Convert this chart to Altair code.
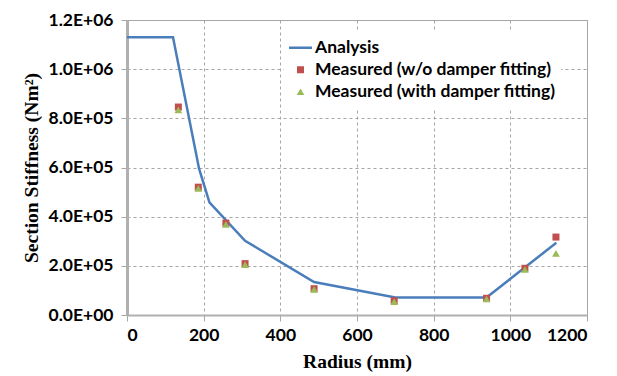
import altair as alt
import pandas as pd

# Analysis curve
analysis_r = [0, 120, 188, 215, 308, 488, 700, 938, 1120]
analysis_k = [1.13e6, 1.13e6, 0.595e6, 0.458e6, 0.302e6, 0.134e6, 0.071e6, 0.071e6, 0.294e6]

# Measured points
meas_r = [134, 186, 258, 308, 488, 697, 938, 1038, 1119]
meas_wo = [0.846e6, 0.520e6, 0.374e6, 0.209e6, 0.107e6, 0.058e6, 0.068e6, 0.190e6, 0.317e6]
meas_with = [0.834e6, 0.515e6, 0.369e6, 0.205e6, 0.104e6, 0.054e6, 0.065e6, 0.185e6, 0.251e6]

series = ["Analysis", "Measured (w/o damper fitting)", "Measured (with damper fitting)"]
colors = ["#4A7EBB", "#C0504D", "#9BBB59"]
x_ticks = [0, 200, 400, 600, 800, 1000, 1200]
y_ticks = [0, 2e5, 4e5, 6e5, 8e5, 1.0e6, 1.2e6]

df_line = pd.DataFrame({"r": analysis_r, "k": analysis_k})
df_pts = pd.concat([
    pd.DataFrame({"r": meas_r, "k": meas_wo, "s": series[1]}),
    pd.DataFrame({"r": meas_r, "k": meas_with, "s": series[2]}),
], ignore_index=True)

LABEL_FONT = "Lato"
TITLE_FONT = "Liberation Serif"

x_enc = alt.X("r:Q", scale=alt.Scale(domain=[0, 1200], nice=False),
              axis=alt.Axis(values=x_ticks, format="d", title="Radius (mm)",
                            titleX=230, titleY=46, titleBaseline="middle",
                            domainWidth=2, labelPadding=5))
y_enc = alt.Y("k:Q", scale=alt.Scale(domain=[0, 1.2e6], nice=False),
              axis=alt.Axis(values=y_ticks, title="Section Stiffness (Nm²)",
                            labelExpr="replace(upper(format(datum.value, '.1e')), 'E+', 'E+0')",
                            titleX=-96, titleY=147.5, titleAngle=-90,
                            titleAlign="center", titleBaseline="middle",
                            domainWidth=3, labelPadding=8))

line = alt.Chart(df_line).mark_line(color=colors[0], strokeWidth=2.5).encode(x=x_enc, y=y_enc)

line_path = "M-1,-0.11L1,-0.11L1,0.11L-1,0.11Z"
leg = alt.Legend(title=None, orient="none", legendX=157, legendY=12,
                 labelFont=LABEL_FONT, labelFontSize=17.5, labelFontWeight="bold",
                 labelColor="black", labelLimit=0, labelOffset=3, clipHeight=21.5,
                 fillColor="white", padding=5, rowPadding=0, symbolStrokeWidth=0)

pts = alt.Chart(df_pts).mark_point(filled=True, opacity=1).encode(
    x=x_enc, y=y_enc,
    color=alt.Color("s:N", scale=alt.Scale(domain=series, range=colors), legend=leg),
    shape=alt.Shape("s:N", scale=alt.Scale(domain=series, range=[line_path, "square", "triangle-up"]), legend=leg),
    size=alt.Size("s:N", scale=alt.Scale(type="ordinal", domain=series, range=[529, 49, 60]), legend=leg),
)

chart = alt.layer(line, pts).properties(
    width=460, height=295,
    autosize=alt.AutoSizeParams(type="none"),
    padding={"left": 119, "top": 12, "right": 22, "bottom": 58},
).configure_view(
    stroke="#A6A6A6", strokeWidth=1
).configure_axis(
    labelFont=LABEL_FONT, labelFontSize=17.5, labelFontWeight="bold", labelColor="black",
    titleFont=TITLE_FONT, titleFontSize=19.5, titleFontWeight="bold", titleColor="black",
    domainColor="#B0B0B0", tickColor="#A6A6A6", tickSize=6,
    gridColor="#A6A6A6", gridDash=[3, 3], gridWidth=1,
)

chart.save("out.html", embed_options={"renderer": "svg", "actions": False})
